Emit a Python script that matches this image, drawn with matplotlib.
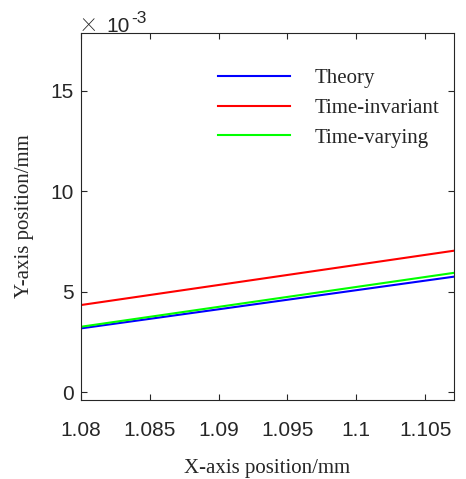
import matplotlib
matplotlib.use("Agg")
import matplotlib.pyplot as plt
from matplotlib.ticker import FixedLocator

# Data (y values in units of 1e-3 mm)
x_vals = [1.08, 1.1071]
theory = [3.18, 5.75]
time_invariant = [4.34, 7.04]
time_varying = [3.26, 5.94]
series_labels = ["Theory", "Time-invariant", "Time-varying"]
x_ticks = [1.08, 1.085, 1.09, 1.095, 1.1, 1.105]
x_tick_labels = ["1.08", "1.085", "1.09", "1.095", "1.1", "1.105"]
y_ticks = [0, 5, 10, 15]
y_tick_labels = ["0", "5", "10", "15"]

W, H = 466, 479
fig = plt.figure(figsize=(W / 100, H / 100), dpi=100)
L, R, T, B = 81, 454, 33, 400
ax = fig.add_axes([L / W, 1 - B / H, (R - L) / W, (B - T) / H])

gray = "#262626"
ax.plot(x_vals, theory, color="#0000ff", lw=1.5, label=series_labels[0])
ax.plot(x_vals, time_invariant, color="#ff0000", lw=1.5, label=series_labels[1])
ax.plot(x_vals, time_varying, color="#00ff00", lw=1.5, label=series_labels[2])

ax.set_xlim(1.08, 1.1071)
ax.set_ylim(-0.38, 17.86)
ax.xaxis.set_major_locator(FixedLocator(x_ticks))
ax.set_xticklabels(x_tick_labels)
ax.yaxis.set_major_locator(FixedLocator(y_ticks))
ax.set_yticklabels(y_tick_labels)

for s in ax.spines.values():
    s.set_color(gray)
    s.set_linewidth(0.8)
ax.tick_params(direction="in", top=True, right=True, length=4, width=0.8,
               color=gray, labelcolor=gray, labelsize=15)
ax.tick_params(axis="x", pad=15)
ax.tick_params(axis="y", pad=5)
for lab in ax.get_xticklabels() + ax.get_yticklabels():
    lab.set_family("Liberation Sans")

ax.set_xlabel("X-axis position/mm", family="Liberation Serif", fontsize=15, color=gray,
              va="baseline")
ax.xaxis.set_label_coords(0.5, -(473 - B) / (B - T))
ax.set_ylabel("Y-axis position/mm", family="Liberation Serif", fontsize=15, color=gray,
              va="center")
ax.yaxis.set_label_coords((24 - L) / (R - L), 0.5)

leg = ax.legend(loc="upper left", bbox_to_anchor=((210 - L) / (R - L), 1 - (60.5 - T) / (B - T)),
                frameon=False, prop={"family": "Liberation Serif", "size": 15},
                handlelength=3.45, handletextpad=1.15, labelspacing=0.48, borderaxespad=0)
for t in leg.get_texts():
    t.set_color(gray)

# exponent label
fig.text(81 / W, 1 - 31 / H, "\u00d7", fontsize=22, color=gray, va="baseline", ha="left",
         family="Roboto", weight="light")
fig.text(106 / W, 1 - 32 / H, "10", fontsize=15, color=gray, va="baseline", ha="left",
         family="Liberation Sans")
fig.text(131 / W, 1 - 23 / H, "-3", fontsize=12.5, color=gray, va="baseline", ha="left",
         family="Liberation Sans")

fig.savefig("out.png", dpi=100)
